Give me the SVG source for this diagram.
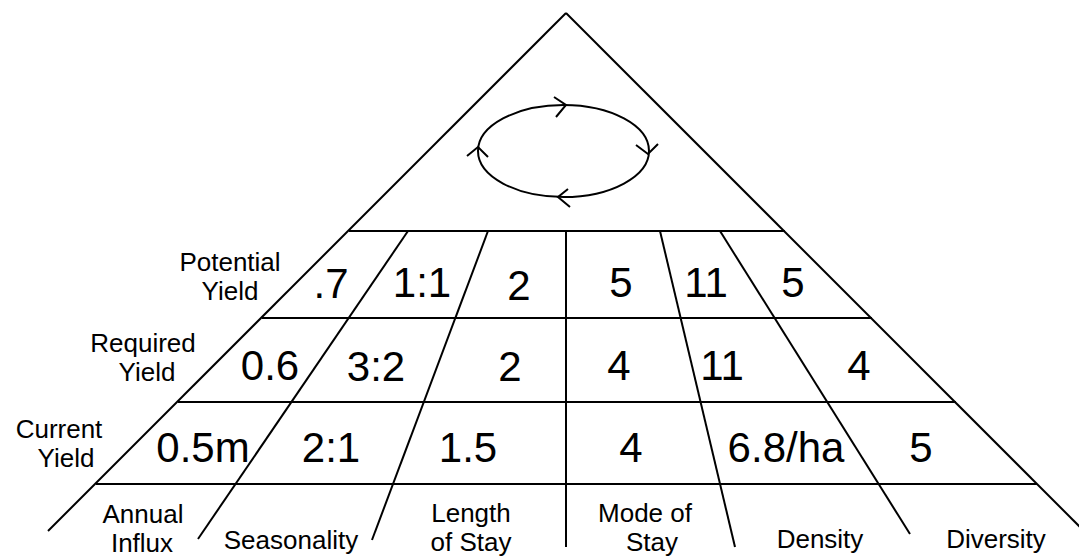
<svg xmlns="http://www.w3.org/2000/svg" width="1079" height="558" viewBox="0 0 1079 558">
<style>
.ln{stroke:#000;stroke-width:2;fill:none;stroke-linecap:butt}
.v{font-family:"Liberation Sans",Arial,sans-serif;font-size:42px;fill:#000;text-anchor:middle}
.l{font-family:"Liberation Sans",Arial,sans-serif;font-size:26px;fill:#000;text-anchor:middle}
</style>
<rect width="1079" height="558" fill="#fff"/>
<g id="connectors">
<line class="ln" x1="566" y1="13" x2="48" y2="531"/>
<line class="ln" x1="566" y1="13" x2="1084" y2="531"/>
<line class="ln" x1="349" y1="231" x2="785" y2="231"/>
<line class="ln" x1="262" y1="318" x2="872" y2="318"/>
<line class="ln" x1="178" y1="402" x2="956" y2="402"/>
<line class="ln" x1="96" y1="484" x2="1037" y2="484"/>
<line class="ln" x1="408" y1="231" x2="198" y2="539"/>
<line class="ln" x1="488" y1="231" x2="372" y2="540"/>
<line class="ln" x1="566" y1="231" x2="566" y2="547"/>
<line class="ln" x1="660" y1="231" x2="735" y2="547"/>
<line class="ln" x1="720" y1="231" x2="910" y2="534"/>
</g>
<g id="cycle">
<ellipse class="ln" cx="563.5" cy="151" rx="85.5" ry="46"/>
<polyline class="ln" points="554,97 566,105 556,117"/>
<polyline class="ln" points="636,145 648,154 658,144"/>
<polyline class="ln" points="568,189 558,197 570,207"/>
<polyline class="ln" points="467,156 478,147 488,157"/>
</g>
<g id="row-labels">
<text class="l" x="230" y="271">Potential</text>
<text class="l" x="230" y="300">Yield</text>
<text class="l" x="143" y="352">Required</text>
<text class="l" x="147" y="381">Yield</text>
<text class="l" x="59" y="438">Current</text>
<text class="l" x="66" y="467">Yield</text>
</g>
<g id="row-potential">
<text class="v" x="331" y="298">.7</text>
<text class="v" x="422" y="297">1:1</text>
<text class="v" x="519" y="300">2</text>
<text class="v" x="621" y="297">5</text>
<text class="v" x="706" y="297">11</text>
<text class="v" x="793" y="297">5</text>
</g>
<g id="row-required">
<text class="v" x="270" y="380">0.6</text>
<text class="v" x="376" y="381">3:2</text>
<text class="v" x="510" y="381">2</text>
<text class="v" x="619" y="380">4</text>
<text class="v" x="722" y="380">11</text>
<text class="v" x="859" y="380">4</text>
</g>
<g id="row-current">
<text class="v" x="203" y="462">0.5m</text>
<text class="v" x="331" y="462">2:1</text>
<text class="v" x="468" y="462">1.5</text>
<text class="v" x="631" y="462">4</text>
<text class="v" x="786" y="462">6.8/ha</text>
<text class="v" x="921" y="462">5</text>
</g>
<g id="column-labels">
<text class="l" x="143" y="523">Annual</text>
<text class="l" x="142" y="552">Influx</text>
<text class="l" x="291" y="549">Seasonality</text>
<text class="l" x="471" y="522">Length</text>
<text class="l" x="471" y="551">of Stay</text>
<text class="l" x="645" y="522">Mode of</text>
<text class="l" x="652" y="551">Stay</text>
<text class="l" x="820" y="548">Density</text>
<text class="l" x="996" y="548">Diversity</text>
</g>
</svg>
